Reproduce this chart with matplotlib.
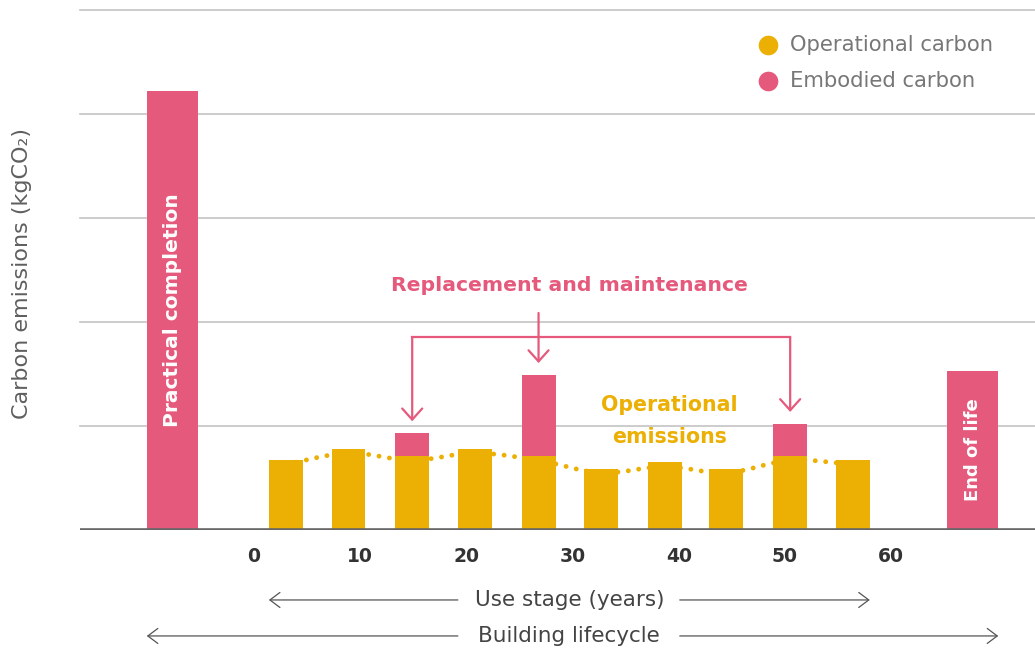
import matplotlib
matplotlib.use("Agg")
import matplotlib.pyplot as plt
import matplotlib.transforms as mtransforms
from matplotlib.path import Path
from matplotlib.patches import PathPatch

plt.rcParams['font.family'] = ['DejaVu Sans']

PINK = '#E55A7C'
YELLOW = '#ECB005'

# use stage bars (x in years)
stage_x = [3.0, 8.9, 14.9, 20.8, 26.8, 32.7, 38.7, 44.5, 50.5, 56.4]
operational = [0.67, 0.78, 0.71, 0.78, 0.71, 0.59, 0.65, 0.59, 0.71, 0.67]
embodied = [0, 0, 0.22, 0, 0.78, 0, 0, 0, 0.31, 0]

# big embodied bars before and after use stage
edge_labels = ['Practical completion', 'End of life']
edge_x = [-7.7, 67.7]
edge_vals = [4.22, 1.53]

year_ticks = [0, 10, 20, 30, 40, 50, 60]

fig = plt.figure(figsize=(10.35, 6.53), dpi=100)
ax = fig.add_axes([0.0773, 0.1884, 0.9227, 0.7963])
ax.set_xlim(-16.39, 73.56)
ax.set_ylim(0, 5)

for y in range(1, 6):
    ax.axhline(y, color='#c4c4c4', lw=1.2, zorder=0, clip_on=False)
ax.axhline(0, color='#666666', lw=2.6, zorder=4)

bw = 3.2
ax.bar(stage_x, operational, width=bw, color=YELLOW, zorder=3)
ax.bar(stage_x, embodied, width=bw, bottom=operational, color=PINK, zorder=3)
ax.bar(edge_x, edge_vals, width=4.8, color=PINK, zorder=3)

for x, v, lab in zip(edge_x, edge_vals, edge_labels):
    yc = 2.115 if v > 3 else 0.77
    fs = 14.5 if v > 3 else 13
    ax.text(x, yc, lab, rotation=90, ha='center', va='center', color='white',
            fontsize=fs, fontweight='bold', zorder=5)

# smooth dotted trend through operational tops (catmull-rom as bezier)
pts = list(zip(stage_x, operational))
verts = [pts[0]]
codes = [Path.MOVETO]
for i in range(len(pts) - 1):
    p0 = pts[i - 1] if i > 0 else pts[i]
    p1 = pts[i]
    p2 = pts[i + 1]
    p3 = pts[i + 2] if i + 2 < len(pts) else pts[i + 1]
    c1 = (p1[0] + (p2[0] - p0[0]) / 6, p1[1] + (p2[1] - p0[1]) / 6)
    c2 = (p2[0] - (p3[0] - p1[0]) / 6, p2[1] - (p3[1] - p1[1]) / 6)
    verts += [c1, c2, p2]
    codes += [Path.CURVE4] * 3
dot_trans = mtransforms.offset_copy(ax.transData, fig=fig, y=-3, units='points')
ax.add_patch(PathPatch(Path(verts, codes), fill=False, edgecolor=YELLOW, lw=3.5,
                       linestyle=(0, (0.01, 2.15)), capstyle='round', zorder=2,
                       transform=dot_trans))

# replacement and maintenance bracket
tops = [o + e for o, e in zip(operational, embodied)]
repl = [i for i, e in enumerate(embodied) if e > 0]
ybr = 1.856
pink_arrow = dict(arrowstyle='->,head_length=0.4,head_width=0.36', color=PINK,
                  lw=1.6, shrinkA=0, shrinkB=0, mutation_scale=20)
ax.plot([stage_x[repl[0]], stage_x[repl[-1]]], [ybr, ybr], color=PINK, lw=1.6,
        solid_capstyle='projecting', zorder=5)
for i in repl:
    start = 2.087 if i == repl[1] else ybr
    ax.annotate('', xy=(stage_x[i], tops[i] + 0.115), xytext=(stage_x[i], start),
                arrowprops=pink_arrow, zorder=5)
ax.text(29.7, 2.346, 'Replacement and maintenance', ha='center', va='center',
        color=PINK, fontsize=14.7, fontweight='bold')
ax.text(39.1, 1.048, 'Operational\nemissions', ha='center', va='center',
        color=YELLOW, fontsize=14.8, fontweight='bold', linespacing=1.75)

# x ticks
ax.set_xticks(year_ticks)
ax.set_xticklabels([str(t) for t in year_ticks], fontsize=13.5, fontweight='bold',
                   color='#333333')
ax.tick_params(axis='x', length=0, pad=12)
ax.set_yticks([])
for s in ax.spines.values():
    s.set_visible(False)

ax.set_ylabel('Carbon emissions (kgCO\u2082)', fontsize=16, color='#5f5f5f')
ax.yaxis.set_label_coords(-0.050, 0.494)

# span arrows below axis
gray_arrow = dict(arrowstyle='->,head_length=0.36,head_width=0.27', color='#555555',
                  lw=0.9, shrinkA=0, shrinkB=0, mutation_scale=20)
spans = [('Use stage (years)', -0.1346, stage_x[0] - bw / 2, stage_x[-1] + bw / 2),
         ('Building lifecycle', -0.2038, edge_x[0] - 2.4, edge_x[-1] + 2.4)]
for lab, ya, x0, x1 in spans:
    ax.text(29.7, ya, lab, ha='center', va='center', fontsize=15.5, color='#444444',
            transform=ax.get_xaxis_transform())
    ax.annotate('', xy=(x0, ya), xytext=(19.2, ya), xycoords=('data', 'axes fraction'),
                textcoords=('data', 'axes fraction'), arrowprops=gray_arrow,
                annotation_clip=False)
    ax.annotate('', xy=(x1, ya), xytext=(40.1, ya), xycoords=('data', 'axes fraction'),
                textcoords=('data', 'axes fraction'), arrowprops=gray_arrow,
                annotation_clip=False)

# legend
leg = [('Operational carbon', YELLOW, 0.9327), ('Embodied carbon', PINK, 0.8635)]
for lab, c, ya in leg:
    ax.scatter([0.7204], [ya], s=200, color=c, transform=ax.transAxes, clip_on=False,
               zorder=5, linewidths=0)
    ax.text(0.7435, ya, lab, transform=ax.transAxes, va='center', ha='left',
            fontsize=15.2, color='#777777')

fig.savefig('out.png', dpi=100)
